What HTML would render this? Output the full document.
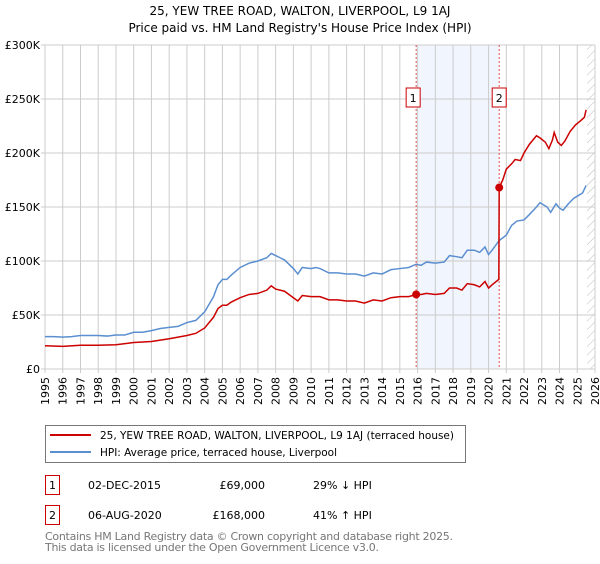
<!DOCTYPE html>
<html><head><meta charset="utf-8"><style>
body{margin:0;background:#fff;font-family:"DejaVu Sans","Liberation Sans",sans-serif;}
svg text{font-family:"DejaVu Sans","Liberation Sans",sans-serif;}
</style></head><body>
<svg id="c" width="600" height="560" xmlns="http://www.w3.org/2000/svg">
<defs><pattern id="hatch" width="6" height="6" patternUnits="userSpaceOnUse" patternTransform="rotate(45)"><line x1="0" y1="0" x2="0" y2="6" stroke="#bbb" stroke-width="1"/></pattern></defs>
<text x="300" y="15" text-anchor="middle" font-size="12" fill="#000">25, YEW TREE ROAD, WALTON, LIVERPOOL, L9 1AJ</text>
<text x="300" y="32" text-anchor="middle" font-size="12" fill="#000">Price paid vs. HM Land Registry's House Price Index (HPI)</text>
<g id="plot"></g>
<g>
<rect x="45.5" y="425.5" width="420" height="37" fill="#fff" stroke="#777"/>
<line x1="50" y1="435" x2="91" y2="435" stroke="#cc0000" stroke-width="2"/>
<text x="100" y="439" font-size="10.5" textLength="354">25, YEW TREE ROAD, WALTON, LIVERPOOL, L9 1AJ (terraced house)</text>
<line x1="50" y1="452" x2="91" y2="452" stroke="#5b8fd0" stroke-width="2"/>
<text x="100" y="456" font-size="10.5" textLength="237">HPI: Average price, terraced house, Liverpool</text>
</g>
<g font-size="11">
<rect x="45.5" y="475.5" width="14" height="19" fill="#fff" stroke="#cc0000"/>
<text x="52.5" y="489" text-anchor="middle">1</text>
<text x="88" y="489">02-DEC-2015</text>
<text x="265" y="489" text-anchor="end">£69,000</text>
<text x="313" y="489">29% ↓ HPI</text>
<rect x="45.5" y="505.5" width="14" height="19" fill="#fff" stroke="#cc0000"/>
<text x="52.5" y="519" text-anchor="middle">2</text>
<text x="88" y="519">06-AUG-2020</text>
<text x="265" y="519" text-anchor="end">£168,000</text>
<text x="313" y="519">41% ↑ HPI</text>
</g>
<text x="45" y="540" font-size="11" fill="#777" textLength="408">Contains HM Land Registry data © Crown copyright and database right 2025.</text>
<text x="45" y="551" font-size="11" fill="#777" textLength="334">This data is licensed under the Open Government Licence v3.0.</text>
</svg>
<script>
const hpiYears=[1995,1995.5,1996,1996.5,1997,1997.5,1998,1998.5,1999,1999.5,2000,2000.5,2001,2001.5,2002,2002.5,2003,2003.5,2004,2004.25,2004.5,2004.75,2005,2005.25,2005.5,2006,2006.5,2007,2007.5,2007.75,2008,2008.25,2008.5,2009,2009.25,2009.5,2010,2010.25,2010.5,2011,2011.5,2012,2012.5,2013,2013.5,2014,2014.5,2015,2015.5,2015.92,2016.2,2016.5,2017,2017.5,2017.8,2018.2,2018.5,2018.8,2019.2,2019.5,2019.8,2020,2020.2,2020.6,2021,2021.3,2021.6,2022,2022.3,2022.7,2022.9,2023.3,2023.5,2023.8,2024,2024.2,2024.5,2024.8,2025,2025.3,2025.5];
const hpiValues=[30,30,29.5,30,31,31,31,30.5,31.5,31.5,34,34,35.5,37.5,38.5,39.5,43,45,53,60,67,78,83,83,87,94,98,100,103,107,105,103,101,93,88,94,93,94,93,89,89,88,88,86,89,88,92,93,94,97,96,99,98,99,105,104,103,110,110,108,113,106,110,119,124,133,137,138,143,150,154,150,145,153,149,147,153,158,160,163,170];
const priceYears=[1995,1996,1997,1998,1999,2000,2001,2002,2003,2003.5,2004,2004.5,2004.75,2005,2005.25,2005.5,2006,2006.5,2007,2007.5,2007.75,2008,2008.5,2009,2009.25,2009.5,2010,2010.5,2011,2011.5,2012,2012.5,2013,2013.5,2014,2014.5,2015,2015.5,2015.92,2016.2,2016.5,2017,2017.5,2017.8,2018.2,2018.5,2018.8,2019.2,2019.5,2019.8,2020,2020.2,2020.58,2020.6,2020.8,2021,2021.3,2021.5,2021.8,2022,2022.3,2022.7,2022.9,2023.2,2023.4,2023.6,2023.7,2023.9,2024.1,2024.3,2024.6,2024.9,2025.2,2025.4,2025.5];
const priceValues=[21.5,21,22,22,22.5,24.5,25.5,28,31,33,38,48,56,59,59,62,66,69,70,73,77,74,72,66,63,68,67,67,64,64,63,63,61,64,63,66,67,67,69,69,70,69,70,75,75,73,79,78,76,81,75,78,83,168,175,185,190,194,193,200,208,216,214,210,204,212,219,210,207,211,220,226,230,233,240];
const saleYears=[2015.92,2020.6];
const saleValues=[69,168];
const saleLabels=["1","2"];
const yTicks=[0,50,100,150,200,250,300];
const yTickLabels=["£0","£50K","£100K","£150K","£200K","£250K","£300K"];
const xTicks=[];for(let y=1995;y<=2026;y++)xTicks.push(y);

const X0=45,X1=595,Y0=369,Y1=45;
const xs=y=>X0+(y-1995)/(2026-1995)*(X1-X0);
const ys=v=>Y0-v/300*(Y0-Y1);
const NS="http://www.w3.org/2000/svg";
const g=document.getElementById('plot');
function mk(t,a,p){const e=document.createElementNS(NS,t);for(const k in a)e.setAttribute(k,a[k]);(p||g).appendChild(e);return e;}

const band=mk('rect',{x:xs(saleYears[0]),y:Y1,width:xs(saleYears[1])-xs(saleYears[0]),height:Y0-Y1,fill:'#eef3fc',opacity:0.8});


const hat=mk('rect',{x:xs(2025.55),y:Y1,width:X1-xs(2025.55),height:Y0-Y1,fill:'url(#hatch)'});


xTicks.forEach(y=>{
  const l=mk('line',{x1:xs(y),x2:xs(y),y1:Y1,y2:Y0+4,stroke:'#ccc','stroke-width':1});
  
  
  const t=mk('text',{x:0,y:0,'font-size':11,'text-anchor':'end',transform:`translate(${xs(y)+4},${Y0+8}) rotate(-90)`});
  t.textContent=y;
  
  
});
yTicks.forEach((v,i)=>{
  const l=mk('line',{x1:X0-4,x2:X1,y1:ys(v),y2:ys(v),stroke:'#ccc','stroke-width':1});
  
  
  const t=mk('text',{x:X0-5,y:ys(v)+4,'font-size':11,'text-anchor':'end'});
  t.textContent=yTickLabels[i];
  
  
});
saleYears.forEach((y,i)=>{
  const l=mk('line',{x1:xs(y),x2:xs(y),y1:Y1,y2:Y0,stroke:'#e05050','stroke-width':1,'stroke-dasharray':'2,2'});
  
  
  const r=mk('rect',{x:xs(y)-7-(i==0?3:0),y:88,width:14,height:19,fill:'#fff',stroke:'#cc0000'});
  
  
  const t=mk('text',{x:xs(y)-(i==0?3:0),y:102,'font-size':11,'text-anchor':'middle'});
  t.textContent=saleLabels[i];
  
  
});
const hp=mk('polyline',{points:hpiYears.map((y,i)=>xs(y)+','+ys(hpiValues[i])).join(' '),fill:'none',stroke:'#5b8fd0','stroke-width':1.5});


const pp=mk('polyline',{points:priceYears.map((y,i)=>xs(y)+','+ys(priceValues[i])).join(' '),fill:'none',stroke:'#cc0000','stroke-width':1.5});


saleYears.forEach((y,i)=>{
  const c=mk('circle',{cx:xs(y),cy:ys(saleValues[i]),r:4,fill:'#cc0000'});
  
  
});
</script>
</body></html>
